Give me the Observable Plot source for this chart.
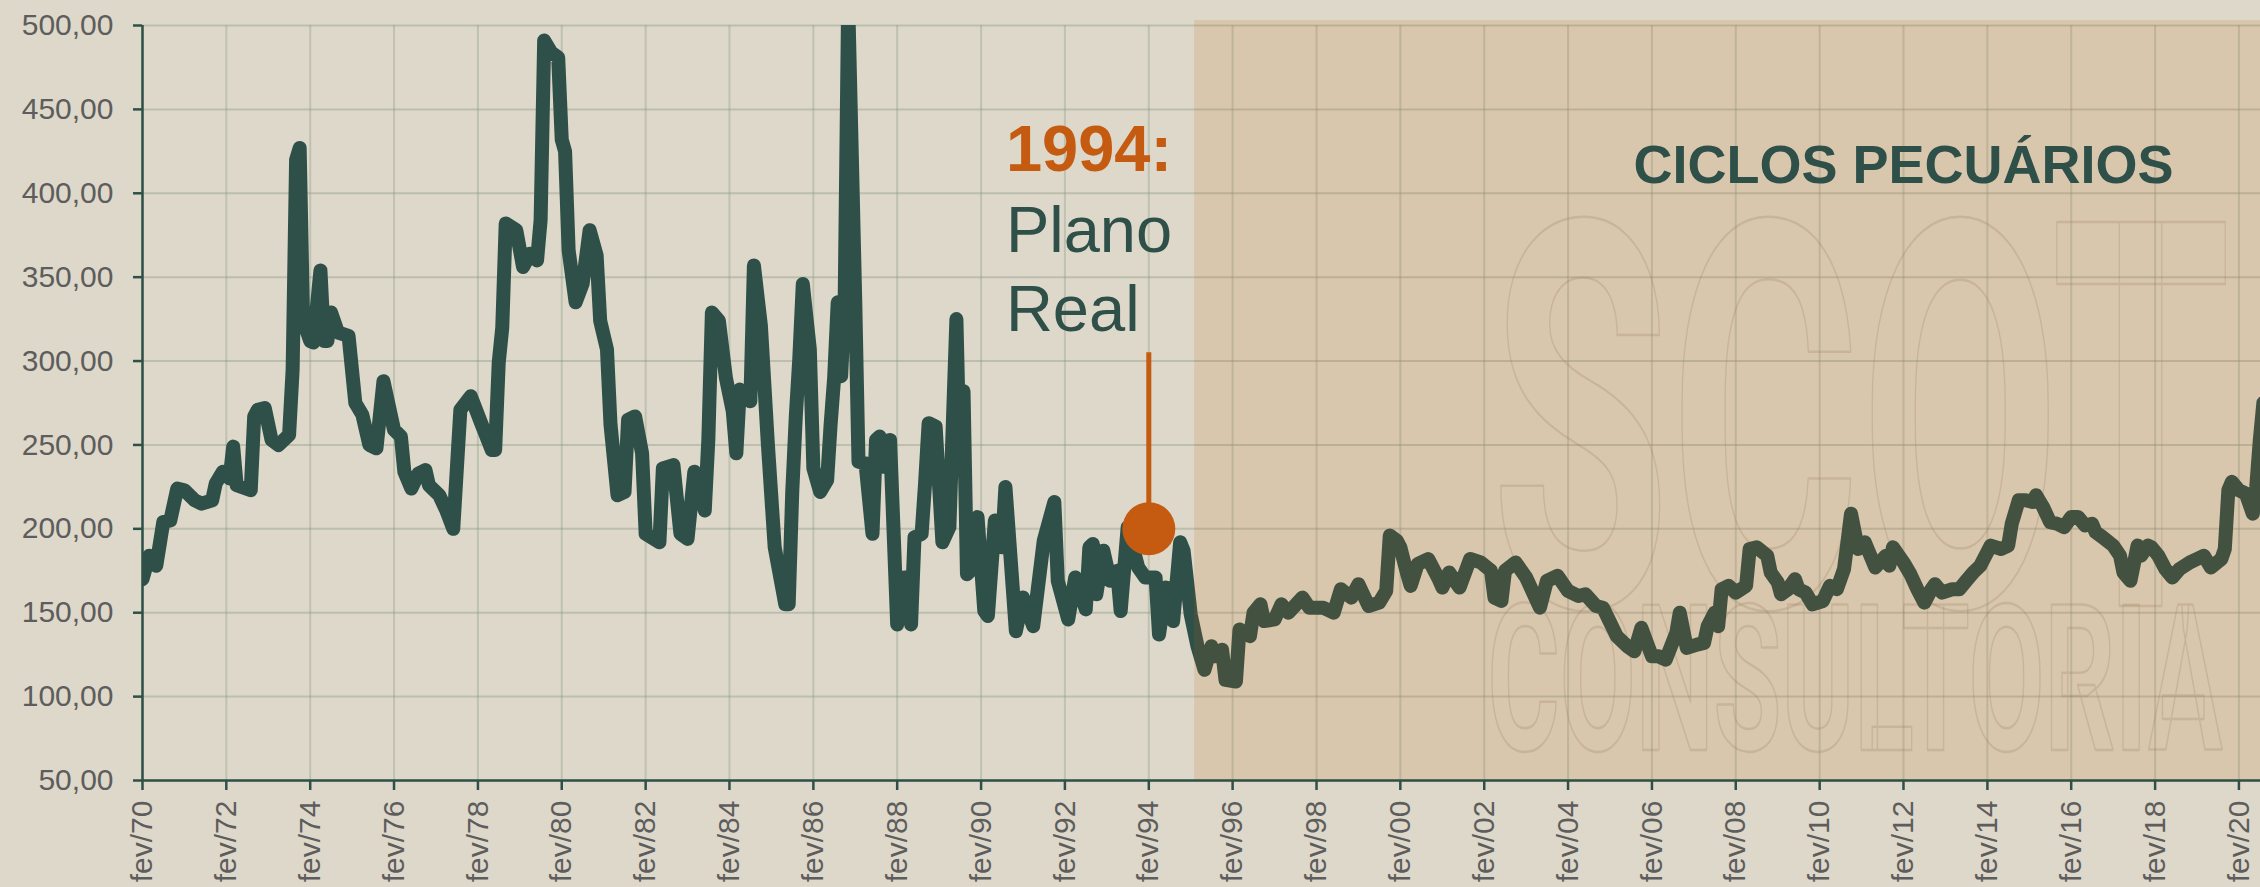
<!DOCTYPE html>
<html>
<head>
<meta charset="utf-8">
<script src="https://cdn.jsdelivr.net/npm/d3@7"></script>
<script src="https://cdn.jsdelivr.net/npm/@observablehq/plot@0.6"></script>
<style>
  html, body { margin: 0; padding: 0; background: #ddd8c9; }
  #chart svg { display: block; }
</style>
</head>
<body>
<div id="chart"></div>
<script>
// ---- data (monthly price index) ----
const dates = [
"1970-02","1970-04","1970-06","1970-08","1970-10","1970-12","1971-02","1971-05","1971-07","1971-10","1971-11",
"1972-01","1972-03","1972-04","1972-05","1972-09","1972-10","1972-11","1973-01","1973-03","1973-05","1973-08",
"1973-09","1973-10","1973-11","1973-12","1974-02","1974-03","1974-05","1974-06","1974-07","1974-08","1974-10",
"1975-01","1975-03","1975-05","1975-07","1975-09","1975-11","1976-02","1976-04","1976-05","1976-07","1976-09",
"1976-11","1976-12","1977-03","1977-05","1977-07","1977-09","1977-12","1978-03","1978-06","1978-07","1978-08",
"1978-09","1978-10","1979-01","1979-03","1979-05","1979-07","1979-08","1979-09","1979-11","1980-01","1980-02",
"1980-03","1980-04","1980-06","1980-08","1980-10","1980-12","1981-01","1981-03","1981-04","1981-06","1981-08",
"1981-09","1981-11","1982-01","1982-02","1982-06","1982-07","1982-10","1982-12","1983-02","1983-04","1983-07",
"1983-08","1983-09","1983-11","1984-01","1984-03","1984-04","1984-05","1984-08","1984-09","1984-11","1985-01",
"1985-03","1985-06","1985-07","1985-08","1985-09","1985-10","1985-11","1986-01","1986-02","1986-04","1986-06",
"1986-07","1986-08","1986-09","1986-10","1986-11","1986-12","1987-02","1987-03","1987-05","1987-07","1987-08",
"1987-09","1987-10","1987-12","1988-02","1988-04","1988-05","1988-06","1988-07","1988-09","1988-10","1988-11",
"1989-01","1989-03","1989-05","1989-06","1989-07","1989-08","1989-09","1989-10","1989-11","1990-01","1990-03",
"1990-04","1990-06","1990-08","1990-09","1990-12","1991-02","1991-05","1991-08","1991-11","1991-12","1992-03",
"1992-05","1992-08","1992-09","1992-10","1992-11","1993-01","1993-03","1993-05","1993-06","1993-08","1993-11",
"1994-01","1994-04","1994-05","1994-07","1994-09","1994-11","1994-12","1995-02","1995-04","1995-06","1995-08",
"1995-09","1995-11","1995-12","1996-03","1996-04","1996-07","1996-08","1996-10","1996-11","1997-02","1997-04",
"1997-06","1997-10","1997-12","1998-04","1998-07","1998-09","1998-12","1999-02","1999-05","1999-08","1999-10",
"1999-11","2000-01","2000-02","2000-04","2000-05","2000-07","2000-10","2001-01","2001-02","2001-04","2001-07",
"2001-10","2002-01","2002-04","2002-05","2002-07","2002-08","2002-11","2003-02","2003-06","2003-08","2003-11",
"2004-02","2004-05","2004-07","2004-10","2004-12","2005-04","2005-07","2005-09","2005-11","2006-02","2006-04",
"2006-06","2006-09","2006-10","2006-12","2007-03","2007-05","2007-06","2007-08","2007-09","2007-10","2007-12",
"2008-02","2008-05","2008-06","2008-08","2008-11","2008-12","2009-02","2009-03","2009-05","2009-07","2009-08",
"2009-10","2009-12","2010-03","2010-05","2010-07","2010-09","2010-10","2010-11","2011-01","2011-03","2011-06",
"2011-09","2011-10","2011-11","2012-02","2012-04","2012-06","2012-08","2012-10","2012-11","2013-01","2013-04",
"2013-06","2013-08","2013-10","2013-12","2014-03","2014-06","2014-08","2014-09","2014-11","2015-01","2015-03",
"2015-04","2015-06","2015-08","2015-10","2015-12","2016-02","2016-04","2016-06","2016-08","2016-09","2016-11",
"2017-02","2017-04","2017-05","2017-07","2017-09","2017-10","2017-12","2018-01","2018-03","2018-05","2018-07",
"2018-09","2018-12","2019-02","2019-04","2019-06","2019-09","2019-10","2019-11","2019-12","2020-02","2020-04",
"2020-06","2020-07","2020-08","2020-09"
];
const values = [
170,184,178,204,205,224,223,217,215,217,227,
234,230,249,226,223,267,271,272,253,250,256,
295,420,427,324,312,311,354,312,312,329,317,
315,275,268,250,248,288,259,255,234,224,233,
235,226,220,211,200,271,279,263,247,247,299,
320,382,378,356,364,360,384,491,484,481,432,
425,366,335,346,378,363,324,307,262,220,222,
265,267,245,197,192,236,238,197,194,234,211,
253,329,324,290,270,245,283,276,357,321,250,
189,155,155,222,267,301,346,307,236,222,229,
262,290,335,291,338,515,335,240,239,197,253,
255,237,253,143,171,171,143,195,197,227,263,
261,192,201,265,325,235,282,173,175,207,151,
148,205,189,225,139,159,142,193,216,169,146,
171,152,189,191,161,187,169,175,151,201,177,
171,171,137,165,145,192,187,149,130,116,130,
124,128,110,109,140,136,150,155,145,146,155,
150,159,153,153,150,164,159,167,154,156,163,
196,193,189,173,166,179,182,170,165,174,165,
182,180,175,159,157,175,180,171,153,169,172,
163,160,161,154,153,136,130,127,141,124,124,
122,138,150,129,131,132,142,150,142,164,166,
162,166,188,189,184,174,168,161,164,170,164,
162,155,157,166,164,176,192,209,188,192,177,
184,178,189,180,173,164,156,164,167,162,164,
164,169,174,178,190,188,190,203,217,217,216,
220,213,204,203,201,207,207,202,203,198,195,
190,184,174,169,190,184,190,189,184,176,171,
176,180,182,184,177,182,188,223,228,223,221,
209,225,253,275
];
const tickYears = [1970,1972,1974,1976,1978,1980,1982,1984,1986,1988,1990,1992,1994,1996,1998,2000,2002,2004,2006,2008,2010,2012,2014,2016,2018,2020];
const yTicks = [50,100,150,200,250,300,350,400,450,500];
const xStart = "1970-02-01", xEnd = "2020-08-07";
const shadeStart = "1995-03-07";
const marker = {date: "1994-02", value: 200, top: 305};
const noteLines = ["1994:", "Plano", "Real"];
const noteValues = [413, 365, 318];
const noteDate = "1990-09-05";
const sectionTitle = {text: "CICLOS PECUÁRIOS", date: "2012-02-01", value: 406};
const watermark = [
  {text: "SCOT", date: "2002-04-01", value: 154, size: 540, len: 740},
  {text: "CONSULTORIA", date: "2002-03-01", value: 68, size: 204, len: 735}
];

// ---- build ----
const parse = d3.utcParse("%Y-%m");
const parseD = d3.utcParse("%Y-%m-%d");
const series = dates.map((d, i) => ({date: parse(d), value: values[i]}));
const xTicks = tickYears.map(y => new Date(Date.UTC(y, 1, 1)));
const teal = "#2f5049", orange = "#c55a11", gray = "#5d5d5d";

const chart = Plot.plot({
  width: 2260, height: 887,
  marginLeft: 142, marginRight: 0, marginTop: 25, marginBottom: 107,
  style: {background: "#ddd8c9", fontFamily: "'Liberation Sans', Arial, sans-serif"},
  x: {type: "utc", domain: [parseD(xStart), parseD(xEnd)]},
  y: {domain: [50, 500]},
  marks: [
    Plot.gridX(xTicks, {stroke: "#7d8f7c", strokeOpacity: 0.3, strokeWidth: 2}),
    Plot.gridY(yTicks, {stroke: "#7d8f7c", strokeOpacity: 0.35, strokeWidth: 2}),
    Plot.text(watermark, {x: d => parseD(d.date), y: "value", text: "text", fontSize: d => d.size,
      fontWeight: "bold", fontFamily: "Roboto", textAnchor: "start", lineAnchor: "bottom",
      fill: "none", stroke: "#8a7055", strokeOpacity: 0.2, strokeWidth: 2.5, className: "wm"}),
    Plot.line(series, {x: "date", y: "value", stroke: teal, strokeWidth: 14,
      strokeLinejoin: "round", strokeLinecap: "round", clip: true}),
    Plot.rect([{x1: parseD(shadeStart), x2: parseD(xEnd), y1: 50, y2: 503}],
      {x1: "x1", x2: "x2", y1: "y1", y2: "y2", fill: "#b8600f", fillOpacity: 0.145}),
    Plot.ruleY([50], {stroke: teal, strokeWidth: 2.5}),
    Plot.ruleX([parseD(xStart)], {stroke: teal, strokeWidth: 2.5}),
    Plot.axisY({ticks: yTicks, tickFormat: d => d.toFixed(2).replace(".", ","), tickSize: 9, tickPadding: 20,
      fontSize: 30, label: null, stroke: teal, strokeWidth: 2.5, fill: gray}),
    Plot.axisX({ticks: xTicks, tickFormat: d => "fev/" + String(d.getUTCFullYear()).slice(2),
      tickRotate: -90, tickSize: 10, tickPadding: 10, fontSize: 30, label: null,
      stroke: teal, strokeWidth: 2.5, fill: gray}),
    Plot.ruleX([marker], {x: d => parse(d.date), y1: "value", y2: "top", stroke: orange, strokeWidth: 5}),
    Plot.dot([marker], {x: d => parse(d.date), y: "value", r: 26.5, fill: orange}),
    Plot.text([0], {x: () => parseD(noteDate), y: () => noteValues[0], text: () => noteLines[0],
      fontSize: 65, fontWeight: "bold", fill: orange, textAnchor: "start", lineAnchor: "bottom"}),
    Plot.text([1, 2], {x: () => parseD(noteDate), y: i => noteValues[i], text: i => noteLines[i],
      fontSize: 65, fill: teal, textAnchor: "start", lineAnchor: "bottom"}),
    Plot.text([sectionTitle], {x: d => parseD(d.date), y: "value", text: "text", fontSize: 54,
      fontWeight: "bold", fill: teal, textAnchor: "middle", lineAnchor: "bottom"})
  ]
});

// compress the watermark letters (condensed look)
d3.select(chart).selectAll("g.wm text").each(function(d, i) {
  const w = watermark[i];
  if (w) d3.select(this).attr("textLength", w.len).attr("lengthAdjust", "spacingAndGlyphs");
});

document.getElementById("chart").append(chart);
</script>
</body>
</html>
